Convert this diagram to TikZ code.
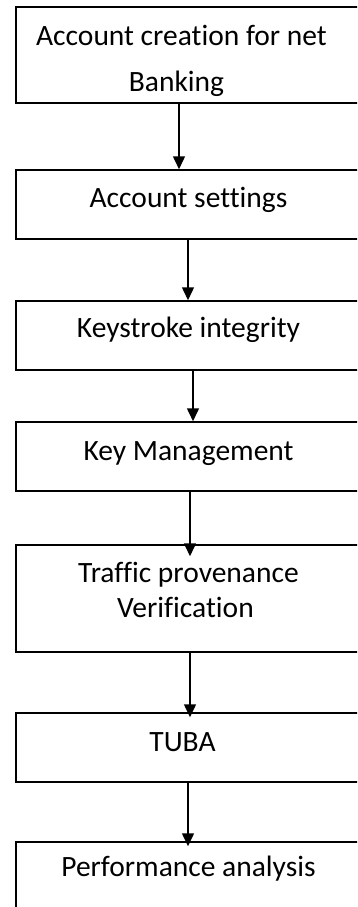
\documentclass[tikz,border=0pt]{standalone}
\usepackage{fontspec}
\setmainfont{Carlito}[Ligatures=NoCommon]
\usetikzlibrary{arrows.meta,positioning}

\begin{document}
\begin{tikzpicture}[x=1pt, y=-1pt, font=\fontsize{29.5}{35}\selectfont,
    stage/.style={draw, line width=1.5pt, minimum width=345pt, inner sep=0pt},
    lbl/.style={anchor=base, inner sep=0pt},
    flow/.style={line width=1.5pt, -{Triangle[width=12pt,length=13pt]}}]
      % frame
      \useasboundingbox (0,0) rectangle (357,907);
      \clip (0,0) rectangle (357,907);

      % stages
      \node[stage, minimum height=96] (acc)  at (188.5,55)    {};
      \node[stage, minimum height=69] (set)  at (188.5,204.5) {};
      \node[stage, minimum height=69] (key)  at (188.5,335.5) {};
      \node[stage, minimum height=69] (mgmt) at (188.5,456.5) {};
      \node[stage, minimum height=107] (prov) at (188.5,598.5) {};
      \node[stage, minimum height=69] (tuba) at (188.5,747.5) {};
      \node[stage, minimum height=68] (perf) at (188.5,876)   {};

      % labels
      \node[lbl] (acc1)  at ([xshift=-7pt,yshift=-39pt]acc.north)   {Account creation for net};
      \node[lbl] (acc2)  at ([xshift=-12pt,yshift=-85pt]acc.north)  {Banking};
      \node[lbl] (set1)  at ([yshift=-38pt]set.north)  {Account settings};
      \node[lbl] (key1)  at ([yshift=-37pt]key.north)  {Keystroke integrity};
      \node[lbl] (mgmt1) at ([yshift=-39pt]mgmt.north) {Key Management};
      \node[lbl] (prov1) at ([yshift=-38pt]prov.north) {Traffic provenance};
      \node[lbl] (prov2) at ([xshift=-3pt,yshift=-73pt]prov.north) {Verification};
      \node[lbl] (tuba1) at ([xshift=-6pt,yshift=-39pt]tuba.north) {TUBA};
      \node[lbl] (perf1) at ([yshift=-35pt]perf.north) {Performance analysis};

      % arrows
      \draw[flow] ([xshift=-9.5pt]acc.south) -- ([xshift=-9.5pt]set.north);
      \draw[flow] ([xshift=-0.5pt]set.south) -- ([xshift=-0.5pt]key.north);
      \draw[flow] ([xshift=4.5pt]key.south)  -- ([xshift=4.5pt]mgmt.north);
      \draw[flow] ([xshift=1.5pt]mgmt.south) -- ([xshift=1.5pt,yshift=-12pt]prov.north);
      \draw[flow] ([xshift=1.5pt]prov.south) -- ([xshift=1.5pt,yshift=-5pt]tuba.north);
      \draw[flow] ([xshift=-0.5pt]tuba.south) -- ([xshift=-0.5pt,yshift=-5pt]perf.north);
\end{tikzpicture}
\end{document}
